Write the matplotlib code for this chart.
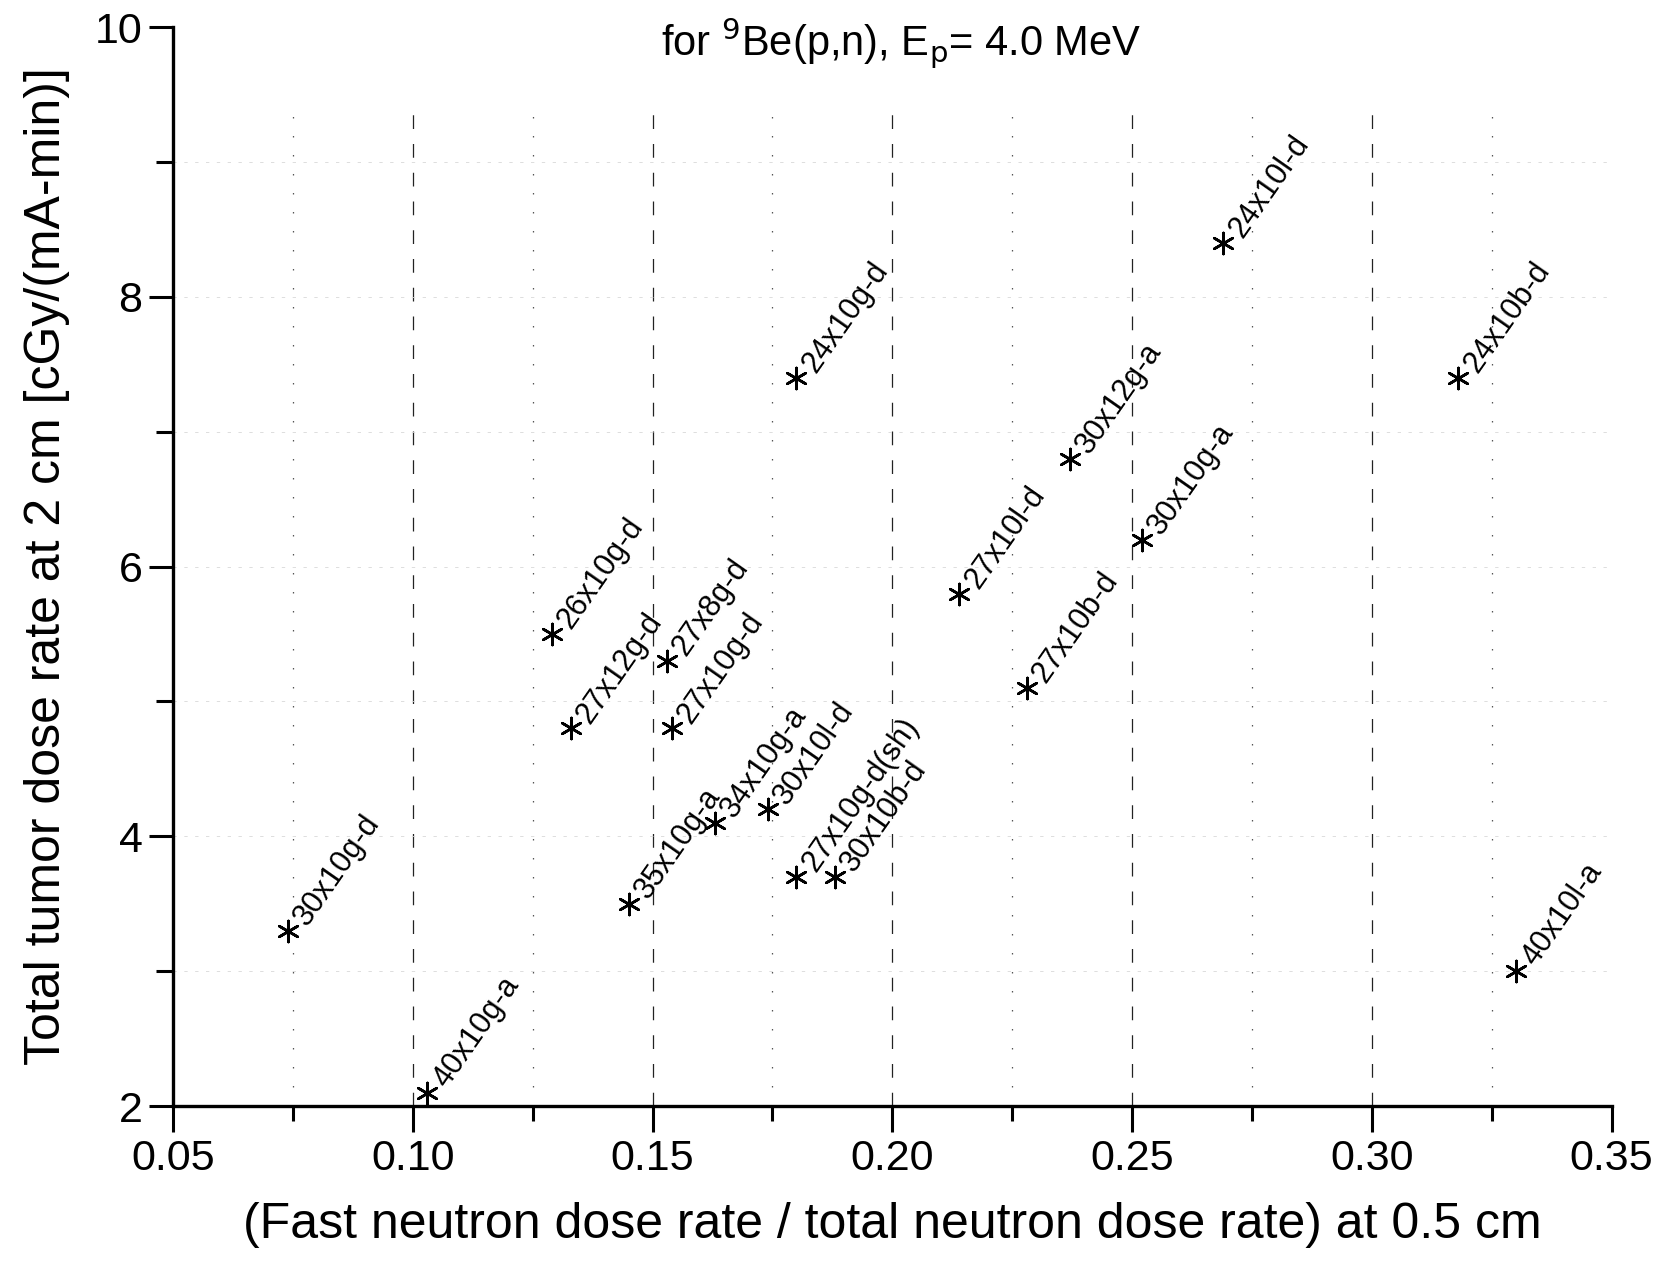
import matplotlib
matplotlib.use("Agg")
import matplotlib.pyplot as plt
import numpy as np

plt.rcParams['font.family'] = ['Liberation Sans', 'DejaVu Sans']

# ==============================
# Data
# ==============================
labels = ["30x10g-d", "40x10g-a", "26x10g-d", "27x12g-d", "27x8g-d", "27x10g-d",
          "35x10g-a", "34x10g-a", "30x10l-d", "27x10g-d(sh)", "30x10b-d", "24x10g-d",
          "27x10l-d", "27x10b-d", "30x12g-a", "30x10g-a", "24x10l-d", "24x10b-d",
          "40x10l-a"]
fast_ratio = [0.074, 0.103, 0.129, 0.133, 0.153, 0.154,
              0.145, 0.163, 0.174, 0.180, 0.188, 0.180,
              0.214, 0.228, 0.237, 0.252, 0.269, 0.318,
              0.330]
dose_rate = [3.3, 2.1, 5.5, 4.8, 5.3, 4.8,
             3.5, 4.1, 4.2, 3.7, 3.7, 7.4,
             5.8, 5.1, 6.8, 6.2, 8.4, 7.4,
             3.0]

x_major = [0.05, 0.10, 0.15, 0.20, 0.25, 0.30, 0.35]
x_minor = [0.075, 0.125, 0.175, 0.225, 0.275, 0.325]
y_major = [2, 4, 6, 8, 10]
y_minor = [3, 5, 7, 9]

# ==============================
# Figure
# ==============================
fig = plt.figure(figsize=(16.67, 12.70), dpi=100)
ax = fig.add_axes([0.1038, 0.1291, 0.8630, 0.8496])

ax.set_xlim(0.05, 0.35)
ax.set_ylim(2, 10)

# grid: dashed at major x, dotted at minor x, very faint horizontals
grid_top = 9.42
ax.vlines(x_major[1:-1], 2, grid_top, colors='#222222', linestyles=(0, (11, 12)), linewidth=0.9, zorder=1)
ax.vlines(x_minor, 2, grid_top, colors='#555555', linestyles=(0, (1.2, 14)), linewidth=0.9, zorder=1)
ax.hlines(y_minor + y_major[1:-1], 0.05, 0.35, colors='#d8d8d8', linestyles=(0, (4, 9)), linewidth=0.6, zorder=1)

# points + rotated labels
ax.scatter(fast_ratio, dose_rate, marker=(6, 2, 0), s=230, color='black', linewidths=1.9, zorder=3)
for x, y, lab in zip(fast_ratio, dose_rate, labels):
    ax.annotate(lab, (x, y), xytext=(9, 6), textcoords='offset points',
                rotation=55, rotation_mode='anchor', ha='left', va='center',
                fontsize=22, zorder=4)

# axes styling
for side in ['top', 'right']:
    ax.spines[side].set_visible(False)
for side in ['left', 'bottom']:
    ax.spines[side].set_linewidth(2.4)

ax.set_xticks(x_major)
ax.set_xticks(x_minor, minor=True)
ax.set_xticklabels([f"{v:.2f}" for v in x_major])
ax.set_yticks(y_major)
ax.set_yticks(y_minor, minor=True)
ax.tick_params(axis='both', which='major', direction='out', width=2.2, labelsize=31)
ax.tick_params(axis='x', which='major', length=19, pad=5)
ax.tick_params(axis='x', which='minor', length=11, width=2.2)
ax.tick_params(axis='y', which='major', length=17, pad=5)
ax.tick_params(axis='y', which='minor', length=12, width=2.2)

ax.set_xlabel("(Fast neutron dose rate / total neutron dose rate) at 0.5 cm", fontsize=36, labelpad=16)
ax.set_ylabel("Total tumor dose rate at 2 cm [cGy/(mA-min)]", fontsize=36, labelpad=18)

ax.text(0.506, 0.985, r"for $^{9}$Be(p,n), E$_{\rm p}$= 4.0 MeV", transform=ax.transAxes,
        ha='center', va='center', fontsize=30)

fig.savefig("out.png", dpi=100)
